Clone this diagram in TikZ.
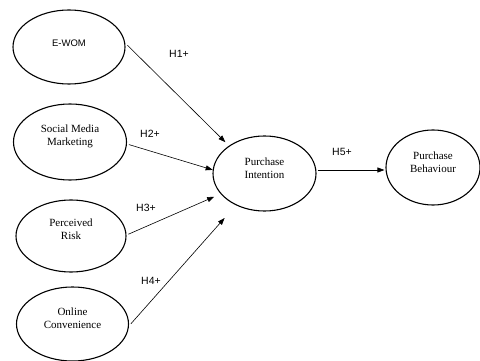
\documentclass[tikz,border=0pt]{standalone}
\usepackage{fontspec}
\setmainfont{Liberation Serif}
\newfontfamily\arialf{Liberation Sans}
\usetikzlibrary{shapes.geometric,arrows.meta,calc}
\begin{document}
\begin{tikzpicture}[x=1pt,y=-1pt,
  ell/.style={draw, ellipse, line width=1.1pt, inner sep=0pt},
  txt/.style={align=center, font=\fontsize{11}{13}\selectfont, inner sep=0pt},
  hlab/.style={font=\arialf\fontsize{10.5}{12}\selectfont, inner sep=0pt},
  arr/.style={-{Triangle[length=7pt,width=5pt]}, line width=0.6pt}]
\useasboundingbox (0,0) rectangle (480,361);
% ellipses
\node[ell, minimum width=112pt, minimum height=74pt] (ewom) at (69,47) {};
\node[ell, minimum width=113pt, minimum height=76pt] (smm) at (70,142) {};
\node[ell, minimum width=110pt, minimum height=72pt] (pr) at (71,236) {};
\node[ell, minimum width=112pt, minimum height=74pt] (oc) at (72.5,324) {};
\node[ell, minimum width=103pt, minimum height=75pt] (pi) at (264.5,173.5) {};
\node[ell, minimum width=94pt, minimum height=75pt] (pb) at (433,167.5) {};
% texts
\node[hlab, font=\arialf\fontsize{9.5}{11}\selectfont] (ewomT) at (69,43) {E-WOM};
\node[txt] (smmT) at (70,136) {Social Media\\Marketing};
\node[txt] (prT) at (71,229) {Perceived\\Risk};
\node[txt] (ocT) at (72.5,318) {Online\\Convenience};
\node[txt] (piT) at (264.5,168) {Purchase\\Intention};
\node[txt] (pbT) at (433,162) {Purchase\\Behaviour};
% arrows
\draw[arr, shorten <=3pt, shorten >=5pt] (ewom.4) -- (pi.142.3);
\draw[arr, shorten <=2pt, shorten >=0pt] (smm.358) -- (pi.176);
\draw[arr, shorten <=2pt, shorten >=7pt] (pr.1) -- (pi.205.4);
\draw[arr, shorten <=3pt, shorten >=17pt] (oc.358) -- (pi.228.4);
\draw[arr, shorten <=1pt, shorten >=1pt] ([yshift=3.5pt]pi.east) -- ([yshift=-2.5pt]pb.west);
% labels
\node[hlab] (h1) at (179,54) {H1+};
\node[hlab] (h2) at (150,134) {H2+};
\node[hlab] (h3) at (146,208) {H3+};
\node[hlab] (h4) at (151,281) {H4+};
\node[hlab] (h5) at (342,152) {H5+};
\end{tikzpicture}
\end{document}
